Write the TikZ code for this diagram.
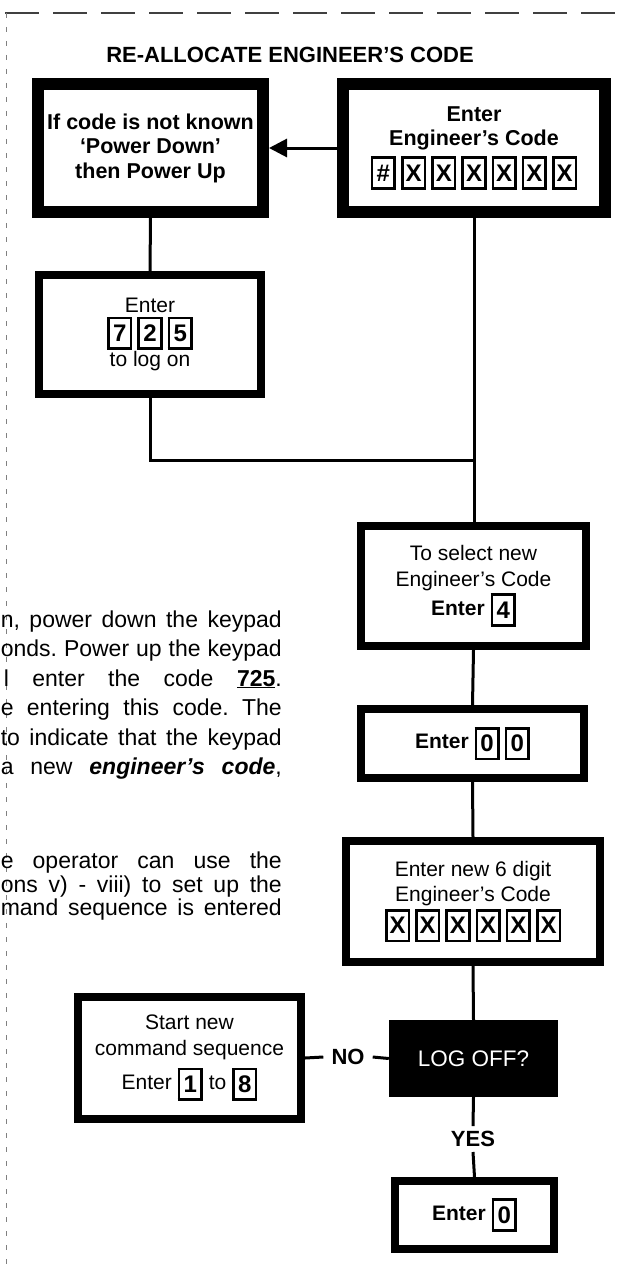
\documentclass[tikz,border=0pt]{standalone}
\usepackage{fontspec}
\setmainfont{Liberation Sans}
\usetikzlibrary{arrows.meta, positioning}
\frenchspacing

\newcommand{\keycap}[1]{{\setlength{\fboxrule}{2.6pt}\setlength{\fboxsep}{0pt}%
  \fbox{\parbox[c][28pt][c]{20pt}{\centering\bfseries\fontsize{24}{24}\selectfont #1}}}}
\newcommand{\keygap}{\hspace{5pt}}

\tikzset{
  heavybox/.style={draw, line width=12pt, fill=white, align=center, inner sep=0pt,
    font=\bfseries\fontsize{21.5}{24.5}\selectfont},
  stepbox/.style={draw, line width=8pt, fill=white, align=center, inner sep=0pt,
    font=\fontsize{21}{25.5}\selectfont},
  askbox/.style={fill=black, text=white, inner sep=0pt, font=\fontsize{22.5}{25}\selectfont},
  flow/.style={line width=3pt},
  tag/.style={font=\bfseries\fontsize{22}{25}\selectfont, inner xsep=8pt, inner ysep=5pt},
  para/.style={anchor=base east, inner sep=0pt, font=\fontsize{23}{27}\selectfont},
}

\begin{document}
\begin{tikzpicture}[x=1pt, y=-1pt]
  \useasboundingbox (0,0) rectangle (629,1271);

  % page edge of the scan
  \draw[black!75, line width=2pt, dash pattern=on 34pt off 14pt] (5,13) -- (629,13);
  \draw[black!50, line width=1pt, dash pattern=on 5pt off 9pt] (6,13) -- (6,1271);

  \node[font=\bfseries\fontsize{22}{26}\selectfont] (title) at (290,55) {RE-ALLOCATE ENGINEER'S CODE};

  % top row
  \node[heavybox, minimum width=225pt, minimum height=128pt] (recover) at (150.5,148)
    {If code is not known\\`Power Down'\\then Power Up};
  \node[heavybox, minimum width=262pt, minimum height=128pt] (engcode) at (474,148)
    {Enter\\Engineer's Code\\[5pt]\keycap{\#}\keygap\keycap{X}\keygap\keycap{X}\keygap\keycap{X}\keygap\keycap{X}\keygap\keycap{X}\keygap\keycap{X}};
  \node[stepbox, minimum width=222pt, minimum height=119pt] (logon) at (150,334.5)
    {Enter\\\keycap{7}\keygap\keycap{2}\keygap\keycap{5}\\to log on};

  % right column
  \node[stepbox, minimum width=225pt, minimum height=120pt] (newcode) at (473.5,586)
    {To select new\\Engineer's Code\\[2pt]\textbf{Enter} \keycap{4}};
  \node[stepbox, minimum width=223pt, minimum height=69pt] (zeros) at (472.5,743.5)
    {\textbf{Enter} \keycap{0}\keygap\keycap{0}};
  \node[stepbox, minimum width=254pt, minimum height=121pt] (sixdigit) at (473,901.5)
    {Enter new 6 digit\\Engineer's Code\\[2pt]\keycap{X}\keygap\keycap{X}\keygap\keycap{X}\keygap\keycap{X}\keygap\keycap{X}\keygap\keycap{X}};
  \node[askbox, minimum width=169pt, minimum height=77pt] (logoff) at (473.5,1058.5) {LOG OFF?};
  \node[stepbox, minimum width=223pt, minimum height=122pt] (restart) at (189.5,1058)
    {Start new\\command sequence\\[7pt]Enter \keycap{1} to \keycap{8}};
  \node[stepbox, minimum width=159pt, minimum height=68pt] (finish) at (474.5,1215)
    {\textbf{Enter} \keycap{0}};

  \node[tag] (no) at (348,1057) {NO};
  \node[tag, inner xsep=2pt] (yes) at (473,1139) {YES};

  % connectors
  \coordinate (merge) at (473,460);
  \draw[flow, -{Triangle[length=18pt, width=18pt]}] (engcode.west) -- (recover.east);
  \draw[flow] (recover.south) -- (logon.north);
  \draw[flow] (logon.south) |- (merge);
  \draw[flow] (engcode.south) -- (engcode.south |- newcode.north);
  \draw[flow] (newcode.south) -- (zeros.north);
  \draw[flow] (zeros.south) -- (sixdigit.north);
  \draw[flow] (sixdigit.south) -- (logoff.north);
  \draw[flow] (logoff.west) -- (no.east);
  \draw[flow] (no.west) -- (restart.east);
  \draw[flow] (logoff.south) -- (yes.north);
  \draw[flow] (yes.south) -- (finish.north);

  % text of the page beside the chart
  \node[para] (p1) at (282,627) {\makebox[281pt][s]{n, power down the keypad}};
  \node[para] (p2) at (282,656.5) {\makebox[281pt][s]{onds. Power up the keypad}};
  \node[para] (p3) at (282,686) {\makebox[278pt][s]{l enter the code \underline{\textbf{725}}.}};
  \node[para] (p4) at (282,715.5) {\makebox[281pt][s]{e entering this code. The}};
  \node[para] (p5) at (282,745) {\makebox[281pt][s]{to indicate that the keypad}};
  \node[para] (p6) at (282,774.5) {\makebox[281pt][s]{a new \textbf{\textit{engineer's code}},}};
  \node[para] (p7) at (282,868) {\makebox[281pt][s]{e operator can use the}};
  \node[para] (p8) at (282,892) {\makebox[281pt][s]{ons v) - viii) to set up the}};
  \node[para] (p9) at (282,915) {\makebox[281pt][s]{mand sequence is entered}};
\end{tikzpicture}
\end{document}
